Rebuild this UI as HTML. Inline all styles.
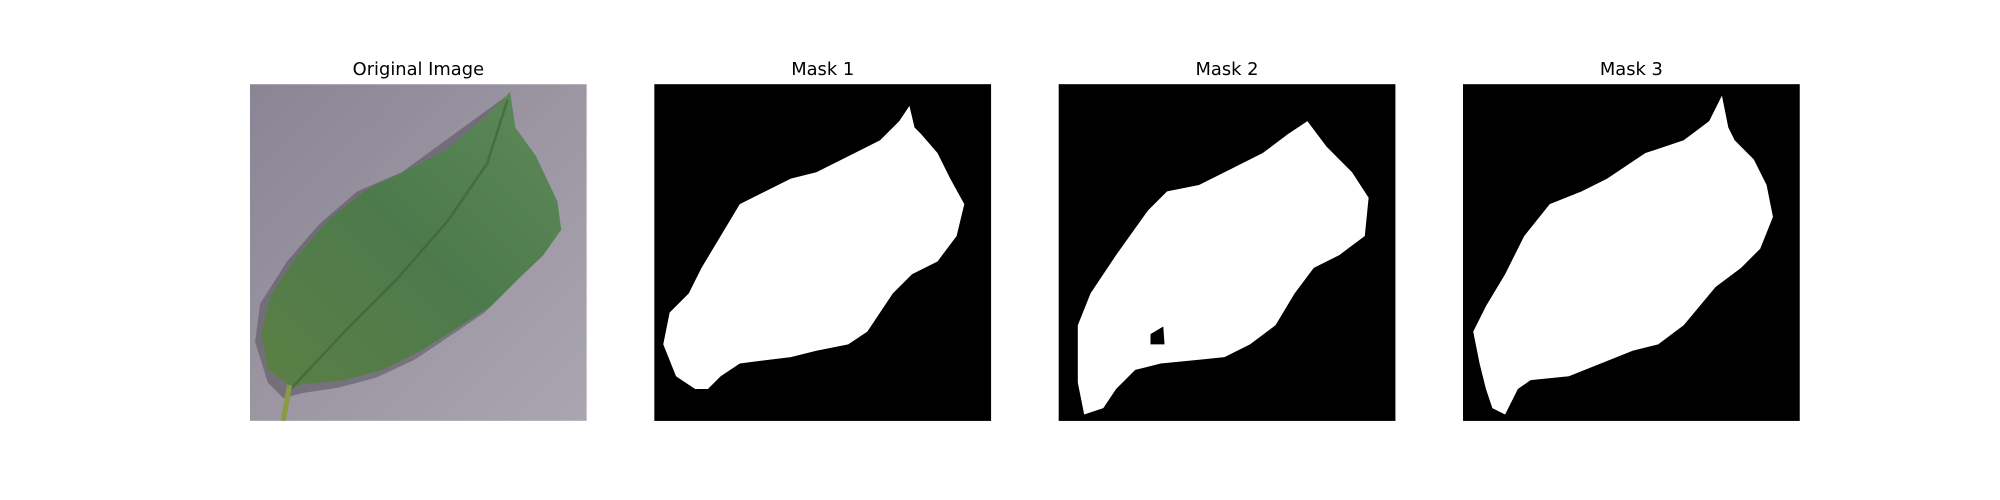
<!DOCTYPE html>
<html><head><meta charset="utf-8"><style>
html,body{margin:0;padding:0;background:#fff;width:2000px;height:500px;overflow:hidden}
svg{display:block}
text{font-family:"DejaVu Sans","Liberation Sans",sans-serif;font-size:14px;fill:#000}
</style></head><body>
<svg width="2000" height="500" viewBox="0 0 1568 392">
<defs>
<linearGradient id="bg" x1="0" y1="0" x2="1" y2="1">
<stop offset="0" stop-color="#8a8494"/><stop offset="0.5" stop-color="#9b96a2"/><stop offset="1" stop-color="#aaa6b0"/>
</linearGradient>
<linearGradient id="lf" x1="0" y1="1" x2="1" y2="0">
<stop offset="0" stop-color="#5b7f45"/><stop offset="0.5" stop-color="#4d7a4c"/><stop offset="1" stop-color="#5e8a58"/>
</linearGradient>
<clipPath id="c1"><rect x="196" y="66" width="264" height="264"/></clipPath>
</defs>
<g>
<text x="328" y="59" text-anchor="middle">Original Image</text>
<g clip-path="url(#c1)">
<rect x="196" y="66" width="264" height="264" fill="url(#bg)"/>
<path d="M396,76 L400,100 L415,125 L432,160 L436,182 L420,205 L400,225 L380,245 L355,262 L325,282 L295,296 L265,304 L238,308 L222,312 L210,300 L200,268 L204,238 L225,205 L250,176 L280,150 L315,135" fill="#3c3a40" opacity="0.4"/>
<path d="M400,72 L404,100 L420,122 L437,158 L440,180 L426,200 L405,220 L385,240 L360,256 L330,275 L300,290 L270,298 L240,301 L228,303 L210,290 L205,262 L212,232 L232,202 L258,172 L288,148 L322,132 L352,116 L380,92 Z" fill="url(#lf)" stroke-linejoin="round"/>
<path d="M398,78 L382,128 L352,172 L312,218 L272,258 L242,290 L228,305" stroke="#3d5f34" stroke-width="2" stroke-opacity="0.6" fill="none"/>
<path d="M227,302 L222,330" stroke="#8a9a44" stroke-width="4"/>
</g>
</g>
<g>
<text x="645" y="59" text-anchor="middle">Mask 1</text>
<rect x="513" y="66" width="264" height="264" fill="#000"/>
<path d="M713,83 L717,100 L722,105 L735,120 L745,140 L756,160 L750,185 L735,205 L715,215 L700,230 L680,260 L665,270 L640,275 L620,280 L595,283 L580,285 L565,295 L555,305 L545,305 L530,295 L520,270 L525,245 L540,230 L550,210 L565,185 L580,160 L600,150 L620,140 L640,135 L660,125 L690,110 L705,95 Z" fill="#fff"/>
</g>
<g>
<text x="962" y="59" text-anchor="middle">Mask 2</text>
<rect x="830" y="66" width="264" height="264" fill="#000"/>
<path d="M1025,95 L1040,115 L1060,135 L1073,155 L1070,185 L1050,200 L1030,210 L1015,230 L1000,255 L980,270 L960,280 L940,282 L910,285 L890,290 L875,305 L865,320 L850,325 L845,300 L845,255 L855,230 L875,200 L900,165 L915,150 L940,145 L960,135 L990,120 L1010,105 Z" fill="#fff"/>
<path d="M902,262 L912,256 L913,270 L902,270 Z" fill="#000"/>
</g>
<g>
<text x="1279" y="59" text-anchor="middle">Mask 3</text>
<rect x="1147" y="66" width="264" height="264" fill="#000"/>
<path d="M1350,75 L1355,100 L1360,110 L1375,125 L1385,145 L1390,170 L1380,195 L1365,210 L1345,225 L1320,255 L1300,270 L1280,275 L1255,285 L1230,295 L1200,298 L1190,305 L1180,325 L1170,320 L1165,305 L1160,285 L1155,260 L1165,240 L1180,215 L1195,185 L1215,160 L1240,150 L1260,140 L1290,120 L1320,110 L1340,95 Z" fill="#fff"/>
</g>
</svg>
</body></html>
